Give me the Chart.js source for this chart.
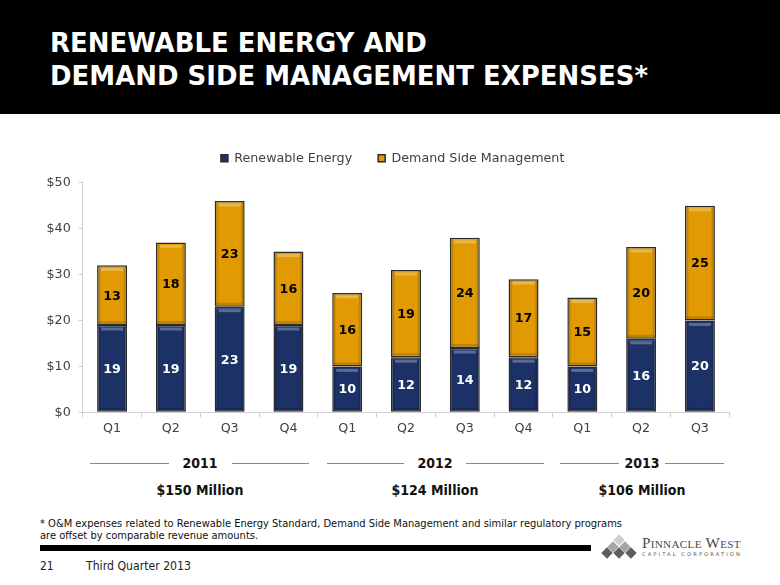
<!DOCTYPE html>
<html><head><meta charset="utf-8">
<script src="https://cdn.jsdelivr.net/npm/chart.js@4.4.1/dist/chart.umd.min.js"></script>
<style>
html,body{margin:0;padding:0;background:#fff;}
body{width:780px;height:585px;position:relative;overflow:hidden;font-family:"DejaVu Sans Condensed","DejaVu Sans",sans-serif;}
#hdr{position:absolute;left:0;top:0;width:780px;height:114px;background:#000;}
.abs{position:absolute;white-space:nowrap;}
.title{left:50px;color:#fff;font-weight:bold;font-size:27px;line-height:27px;}
#chart{position:absolute;left:0;top:126px;}
.yr{font-weight:bold;font-size:14px;line-height:20px;color:#111;transform:translateX(-50%);}
.tot{font-weight:bold;font-size:14px;line-height:20px;color:#111;transform:translateX(-50%);}
.rule{position:absolute;height:1.5px;background:#8a8a8a;}
.note{left:40px;font-size:11px;line-height:13px;color:#111;}
#bar{position:absolute;left:40px;top:545px;width:551px;height:6px;background:#000;}
.foot{font-size:12px;line-height:16px;color:#222;}
.dia{position:absolute;width:8px;height:8px;transform:rotate(45deg);}
.pw{font-family:"Liberation Serif","DejaVu Serif",serif;font-variant:small-caps;font-size:15px;line-height:16px;color:#4a4a4a;letter-spacing:0.3px;}
.cc{font-family:"DejaVu Sans",sans-serif;font-size:5px;line-height:6px;color:#555;letter-spacing:2px;}
</style></head>
<body>
<div id="hdr"></div>
<div class="abs title" id="t1" style="top:28.8px;">RENEWABLE ENERGY AND</div>
<div class="abs title" id="t2" style="top:61.8px;">DEMAND SIDE MANAGEMENT EXPENSES*</div>

<canvas id="chart" width="780" height="319"></canvas>

<div class="rule" style="left:90px;width:78.5px;top:462.5px;"></div>
<div class="rule" style="left:232px;width:77px;top:462.5px;"></div>
<div class="rule" style="left:326.5px;width:77.5px;top:462.5px;"></div>
<div class="rule" style="left:466px;width:77.5px;top:462.5px;"></div>
<div class="rule" style="left:560px;width:59px;top:462.5px;"></div>
<div class="rule" style="left:665px;width:59px;top:462.5px;"></div>
<div id="years"></div>

<div class="abs note" id="n1" data-w="582" style="top:516.5px;">* O&amp;M expenses related to Renewable Energy Standard, Demand Side Management and similar regulatory programs</div>
<div class="abs note" id="n2" style="top:528.5px;">are offset by comparable revenue amounts.</div>
<div id="bar"></div>
<div class="abs foot" style="left:40px;top:558px;">21</div>
<div class="abs foot" id="tq" data-w="105" style="left:86px;top:558px;">Third Quarter 2013</div>

<div class="dia" style="left:614.8px;top:536px;background:#cfcfcf;"></div>
<div class="dia" style="left:608.8px;top:542.5px;background:#a5a5a5;"></div>
<div class="dia" style="left:620.8px;top:542.5px;background:#a5a5a5;"></div>
<div class="dia" style="left:602.8px;top:549px;background:#5e5e5e;"></div>
<div class="dia" style="left:614.8px;top:549px;background:#5e5e5e;"></div>
<div class="dia" style="left:626.8px;top:549px;background:#5e5e5e;"></div>
<div class="abs pw" id="pw" data-w="99" style="left:642px;top:535px;">Pinnacle West</div>
<div class="abs cc" id="cc" data-w="100" style="left:642px;top:550.5px;">CAPITAL CORPORATION</div>

<script>
// ---- data ----
const categories = ['Q1','Q2','Q3','Q4','Q1','Q2','Q3','Q4','Q1','Q2','Q3'];
const renewableEnergy = [19,19,23,19,10,12,14,12,10,16,20];
const demandSideManagement = [13,18,23,16,16,19,24,17,15,20,25];
const seriesNames = ['Renewable Energy','Demand Side Management'];
const yTicks = [0,10,20,30,40,50];
const years = ['2011','2012','2013'];
const yearTotals = ['$150 Million','$124 Million','$106 Million'];

// year group labels (text)
const yearX = [200,435,642];
const yc = document.getElementById('years');
years.forEach((y,i)=>{
  const a=document.createElement('div'); a.className='abs yr'; a.textContent=y;
  a.style.left=yearX[i]+'px'; a.style.top='453px'; yc.appendChild(a);
  const b=document.createElement('div'); b.className='abs tot'; b.textContent=yearTotals[i];
  b.style.left=yearX[i]+'px'; b.style.top='480px'; yc.appendChild(b);
});

const bevel = {
  id:'bevel',
  afterDatasetDraw(chart, args){
    const ctx = chart.ctx;
    args.meta.data.forEach(el=>{
      const p = el.getProps(['x','y','base','width'], true);
      const l = p.x - p.width/2, r = p.x + p.width/2;
      const t = Math.min(p.y,p.base), b = Math.max(p.y,p.base);
      ctx.save();
      const g = ctx.createLinearGradient(l,0,r,0);
      g.addColorStop(0,'rgba(0,0,0,0.35)');
      g.addColorStop(0.14,'rgba(0,0,0,0)');
      g.addColorStop(0.86,'rgba(0,0,0,0)');
      g.addColorStop(1,'rgba(0,0,0,0.35)');
      ctx.fillStyle = g;
      ctx.fillRect(l+1.5, t+1.5, p.width-3, b-t-3);
      ctx.fillStyle = 'rgba(255,255,255,0.28)';
      ctx.fillRect(l+4, t+2.5, p.width-8, 3);
      ctx.fillStyle = 'rgba(0,0,0,0.15)';
      ctx.fillRect(l+2, b-4, p.width-4, 2.5);
      ctx.restore();
    });
  }
};

const valueLabels = {
  id:'valueLabels',
  afterDatasetsDraw(chart){
    const ctx = chart.ctx;
    chart.data.datasets.forEach((ds,di)=>{
      chart.getDatasetMeta(di).data.forEach((el,i)=>{
        const p = el.getProps(['x','y','base'], true);
        ctx.save();
        ctx.font = 'bold 12.7px "DejaVu Sans"';
        ctx.fillStyle = di===0 ? '#ffffff' : '#000000';
        ctx.textAlign='center'; ctx.textBaseline='middle';
        ctx.fillText(String(ds.data[i]), p.x, (p.y+p.base)/2 + 1);
        ctx.restore();
      });
    });
  }
};

// nudge the legend row to sit where the reference has it
const legendShift = {
  id:'legendShift',
  afterLayout(chart){
    if (chart.legend){ chart.legend.left += 6; chart.legend.right += 6; }
  }
};

const tickFont = {family:'DejaVu Sans', size:12.7};
new Chart(document.getElementById('chart'), {
  type:'bar',
  data:{
    labels:categories,
    datasets:[
      {label:seriesNames[0], data:renewableEnergy, backgroundColor:'#1C3166', borderColor:'#2b2b2b', borderWidth:1.5, borderSkipped:false, barPercentage:0.51, categoryPercentage:1},
      {label:seriesNames[1], data:demandSideManagement, backgroundColor:'#E19A02', borderColor:'#2b2b2b', borderWidth:1.5, borderSkipped:false, barPercentage:0.51, categoryPercentage:1}
    ]
  },
  options:{
    responsive:false, animation:false, devicePixelRatio:1,
    layout:{padding:{left:44, right:50.7, top:0, bottom:0}},
    plugins:{
      legend:{display:true, position:'top', labels:{boxWidth:7, boxHeight:7, padding:26, color:'#404040', font:tickFont}},
      subtitle:{display:true, text:'', position:'top', weight:500, padding:0, font:{size:8, lineHeight:1}},
      tooltip:{enabled:false}
    },
    scales:{
      x:{stacked:true,
        afterFit:s=>{s.height=32.7;},
        border:{display:true, color:'#d0d0d0', width:1},
        grid:{drawOnChartArea:false, drawTicks:true, tickLength:5, color:'#d0d0d0', offset:true},
        ticks:{padding:4, color:'#404040', font:tickFont}},
      y:{stacked:true, min:0, max:50,
        afterBuildTicks:s=>{s.ticks=yTicks.map(v=>({value:v}));},
        afterFit:s=>{s.width=38.7;},
        border:{display:true, color:'#d0d0d0', width:1},
        grid:{drawOnChartArea:false, drawTicks:true, tickLength:4, color:'#d0d0d0'},
        ticks:{padding:8, color:'#404040', font:tickFont, callback:v=>'$'+v}}
    }
  },
  plugins:[bevel, valueLabels, legendShift]
});

function fit(){
  const t2=document.getElementById('t2'), t1=document.getElementById('t1');
  t1.style.transform=t2.style.transform='';
  const k=598/t2.getBoundingClientRect().width;
  [t1,t2].forEach(e=>{e.style.transformOrigin='left center'; e.style.transform='scaleX('+k+')';});
  document.querySelectorAll('[data-w]').forEach(el=>{
    el.style.transform='';
    const w=el.getBoundingClientRect().width, t=+el.dataset.w;
    el.style.transformOrigin='left center';
    el.style.transform='scaleX('+(t/w)+')';
    if(el.id==='n1'){const n2=document.getElementById('n2'); n2.style.transformOrigin='left center'; n2.style.transform='scaleX('+(t/w)+')';}
  });
}
fit();
if(document.fonts&&document.fonts.ready) document.fonts.ready.then(fit);
</script>
</body></html>
